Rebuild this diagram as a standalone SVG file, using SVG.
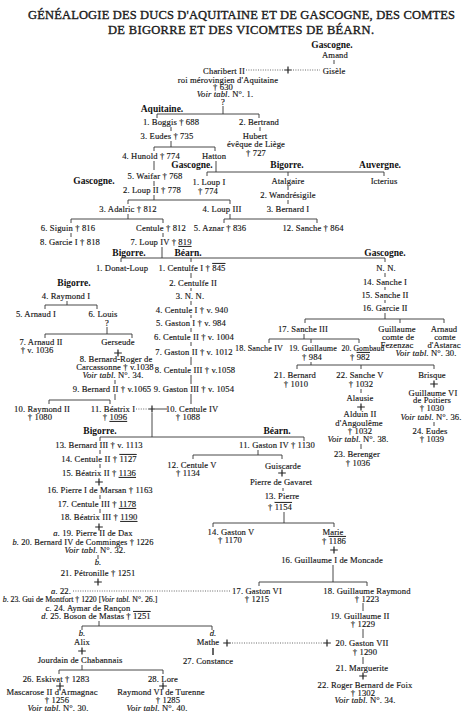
<svg xmlns="http://www.w3.org/2000/svg" xmlns:xlink="http://www.w3.org/1999/xlink" width="474" height="723" viewBox="0 0 474 723">
<style>
.t{font-family:"Liberation Serif","Times New Roman",serif;font-size:8.6px;letter-spacing:0.12px;fill:#151515;stroke:#151515;stroke-width:0.15;text-anchor:middle}
.h{font-family:"Liberation Serif","Times New Roman",serif;font-size:9.5px;font-weight:bold;fill:#111;text-anchor:middle}
.ti{font-family:"Liberation Serif","Times New Roman",serif;font-size:12.5px;fill:#1a1a1a;stroke:#1a1a1a;stroke-width:0.35;text-anchor:middle}
.i{font-style:italic}
.ov{text-decoration:overline}
.un{text-decoration:underline}
.ln{fill:none;stroke:#333;stroke-width:0.9}
.dot{fill:none;stroke:#444;stroke-width:0.8;stroke-dasharray:1 1.4}
.pl{fill:none;stroke:#222;stroke-width:1.2}
</style>
<defs>
<path id="plus" class="pl" d="M-3.8,0H3.8M0,-3.6V3.6"/>
</defs>
<rect width="474" height="723" fill="#fff"/>
<g id="title">
<text class="ti" x="241.5" y="19" textLength="427" lengthAdjust="spacing">GÉNÉALOGIE DES DUCS D'AQUITAINE ET DE GASCOGNE, DES COMTES</text>
<text class="ti" x="241" y="34" textLength="266" lengthAdjust="spacing">DE BIGORRE ET DES VICOMTES DE BÉARN.</text>
</g>
<g id="connectors">
<path class="dot" d="M246,70H284M293,70H320M136,409H148M73,591H231M232,643H322"/>
<path class="ln" d="M156,409H167"/>
<path class="ln" d="M334,60V64M223,106V114M157,118V114H259V118M171,127V131M171,141V147M154,151V147H215V151M260,127V131M154,161V170M154,181V186M154,195V200M128,204V200H230V204M216,161V172M207,176V172H384V176M288,172V176M288,186V190M288,200V204M128,214V219M71,223V219H163V223M230,214V219M224,223V219H317V223M71,233V237M163,233V237M162,247V258M121,262V258H385V262M191,258V262"/>
<path class="ln" d="M191,273V278M191,288V291M191,301V305M191,315V318M191,328V332M191,342V346M191,357V365M191,375V384M191,394V404"/>
<path class="ln" d="M385,273V277M385,287V290M385,300V303M385,313V319M305,323V319H444V323M400,319V323M304,334V339M269,343V339H359V343M311,339V343M311,362V365M297,369V365H434V369M361,365V369M361,389V393M361,444V449M434,422V426"/>
<path class="ln" d="M67,301V305M45,309V305H97V309M107,327V334M45,338V334H132V338M115,380V384M115,394V400M49,404V400H110V404"/>
<path class="ln" d="M152,413V437M100,441V437H304V441M258,450V455M193,459V455H282V459M283,488V491M284,512V523M213,527V523H334V527M100,450V454M100,464V468M100,495V499M100,509V513M98,555V559M333,565V582M259,586V582H367V586M363,603V611M99,621V626M82,630V626H212V630M363,629V638M363,657V664M82,665V670M59,674V670H163V674"/>
<path class="ln" style="stroke-width:1.5" d="M213,648V655"/>
<use xlink:href="#plus" x="288" y="70"/>
<use xlink:href="#plus" x="118" y="353"/>
<use xlink:href="#plus" x="152" y="409"/>
<use xlink:href="#plus" x="361" y="407"/>
<use xlink:href="#plus" x="434" y="384"/>
<use xlink:href="#plus" x="282" y="473"/>
<use xlink:href="#plus" x="99" y="482"/>
<use xlink:href="#plus" x="99" y="527"/>
<use xlink:href="#plus" x="98" y="582"/>
<use xlink:href="#plus" x="334" y="550"/>
<use xlink:href="#plus" x="82" y="651"/>
<use xlink:href="#plus" x="227" y="643"/>
<use xlink:href="#plus" x="327" y="643"/>
<use xlink:href="#plus" x="60" y="686"/>
<use xlink:href="#plus" x="163" y="686"/>
<use xlink:href="#plus" x="363" y="676"/>
</g>
<g id="headers">
<text class="h" x="332" y="48">Gascogne.</text>
<text class="h" x="162" y="112">Aquitaine.</text>
<text class="h" x="192" y="168">Gascogne.</text>
<text class="h" x="287" y="168">Bigorre.</text>
<text class="h" x="380" y="168">Auvergne.</text>
<text class="h" x="94" y="184">Gascogne.</text>
<text class="h" x="129" y="256">Bigorre.</text>
<text class="h" x="188" y="256">Béarn.</text>
<text class="h" x="385" y="256">Gascogne.</text>
<text class="h" x="74" y="286">Bigorre.</text>
<text class="h" x="100" y="434">Bigorre.</text>
<text class="h" x="277" y="434">Béarn.</text>
</g>
<g id="amand"><text class="t" x="335" y="58">Amand</text></g>
<g id="charibert">
<text class="t" x="224" y="74">Charibert II</text>
<text class="t" x="228" y="83">roi mérovingien d'Aquitaine</text>
<text class="t" x="223" y="90">† 630</text>
<text class="t" x="225" y="97"><tspan class="i">Voir tabl.</tspan> N°. 1.</text>
<text class="t" x="223" y="105">?</text>
</g>
<g id="gisele"><text class="t" x="334" y="74">Gisèle</text></g>
<g id="boggis"><text class="t" x="171" y="125">1. Boggis † 688</text></g>
<g id="eudes"><text class="t" x="167" y="139">3. Eudes † 735</text></g>
<g id="bertrand"><text class="t" x="259" y="125">2. Bertrand</text></g>
<g id="hubert">
<text class="t" x="255" y="139">Hubert</text>
<text class="t" x="256" y="147">évêque de Liège</text>
<text class="t" x="256" y="156">† 727</text>
</g>
<g id="hunold"><text class="t" x="151" y="159">4. Hunold † 774</text></g>
<g id="hatton"><text class="t" x="214" y="159">Hatton</text></g>
<g id="waifar"><text class="t" x="155" y="179">5. Waifar † 768</text></g>
<g id="loup2"><text class="t" x="152" y="193">2. Loup II † 778</text></g>
<g id="loup1"><text class="t" x="209" y="185">1. Loup I</text><text class="t" x="208" y="194">† 774</text></g>
<g id="atalgaire"><text class="t" x="288" y="184">Atalgaire</text></g>
<g id="icterius"><text class="t" x="384" y="184">Icterius</text></g>
<g id="wandresigile"><text class="t" x="288" y="198">2. Wandrésigile</text></g>
<g id="bernard1"><text class="t" x="288" y="212">3. Bernard I</text></g>
<g id="adalric"><text class="t" x="128" y="212">3. Adalric † 812</text></g>
<g id="loup3"><text class="t" x="222" y="212">4. Loup III</text></g>
<g id="siguin"><text class="t" x="68" y="231">6. Siguin † 816</text></g>
<g id="centule"><text class="t" x="161" y="231">Centule † 812</text></g>
<g id="aznar"><text class="t" x="220" y="231">5. Aznar † 836</text></g>
<g id="sanche12"><text class="t" x="313" y="231">12. Sanche † 864</text></g>
<g id="garcie1"><text class="t" x="70" y="245">8. Garcie I † 818</text></g>
<g id="loup4"><text class="t" x="161" y="245">7. Loup IV † <tspan class="un">819</tspan></text></g>
<g id="donat-loup"><text class="t" x="122" y="271">1. Donat-Loup</text></g>
<g id="centulfe1"><text class="t" x="192" y="271">1. Centulfe I † <tspan class="ov">845</tspan></text></g>
<g id="nn-gascogne"><text class="t" x="386" y="271">N. N.</text></g>
<g id="centulfe2"><text class="t" x="193" y="286">2. Centulfe II</text></g>
<g id="nn3"><text class="t" x="190" y="299">3. N. N.</text></g>
<g id="centule1"><text class="t" x="192" y="313">4. Centule I † v. 940</text></g>
<g id="gaston1"><text class="t" x="191" y="326">5. Gaston I † v. 984</text></g>
<g id="centule2"><text class="t" x="194" y="340">6. Centule II † v. 1004</text></g>
<g id="gaston2"><text class="t" x="194" y="355">7. Gaston II † v. 1012</text></g>
<g id="centule3"><text class="t" x="195" y="373">8. Centule III † v.1058</text></g>
<g id="gaston3"><text class="t" x="194" y="392">9. Gaston III † v. 1054</text></g>
<g id="centule4"><text class="t" x="192" y="412">10. Centule IV</text><text class="t" x="188" y="420">† 1088</text></g>
<g id="sanche1"><text class="t" x="385" y="285">14. Sanche I</text></g>
<g id="sanche2"><text class="t" x="385" y="298">15. Sanche II</text></g>
<g id="garcie2"><text class="t" x="385" y="311">16. Garcie II</text></g>
<g id="sanche3"><text class="t" x="303" y="332">17. Sanche III</text></g>
<g id="guillaume-fezenzac">
<text class="t" x="397" y="332">Guillaume</text>
<text class="t" x="398" y="340">comte de</text>
<text class="t" x="397" y="348">Fezenzac</text>
<text class="t" x="426" y="356"><tspan class="i">Voir tabl.</tspan> N°. 30.</text>
</g>
<g id="arnaud-astarac">
<text class="t" x="444" y="332">Arnaud</text>
<text class="t" x="445" y="340">comte</text>
<text class="t" x="444" y="348">d'Astarac</text>
</g>
<g id="sanche4"><text class="t" x="259" y="351" textLength="48" lengthAdjust="spacingAndGlyphs">18. Sanche IV</text></g>
<g id="guillaume19"><text class="t" x="313" y="351" textLength="48" lengthAdjust="spacingAndGlyphs">19. Guillaume</text><text class="t" x="312" y="360">† 984</text></g>
<g id="gombaud"><text class="t" x="363" y="351" textLength="43" lengthAdjust="spacingAndGlyphs">20. Gombaud</text><text class="t" x="360" y="360">† <tspan class="ov">982</tspan></text></g>
<g id="bernard21"><text class="t" x="295" y="378">21. Bernard</text><text class="t" x="296" y="387">† 1010</text></g>
<g id="sanche5"><text class="t" x="360" y="378">22. Sanche V</text><text class="t" x="361" y="387">† 1032</text></g>
<g id="alausie"><text class="t" x="360" y="401">Alausie</text></g>
<g id="alduin2">
<text class="t" x="360" y="417">Alduin II</text>
<text class="t" x="359" y="426">d'Angoulême</text>
<text class="t" x="360" y="434">† 1032</text>
<text class="t" x="358" y="442"><tspan class="i">Voir tabl.</tspan> N°. 38.</text>
</g>
<g id="berenger"><text class="t" x="357" y="457">23. Berenger</text><text class="t" x="358" y="466">† 1036</text></g>
<g id="brisque"><text class="t" x="432" y="378">Brisque</text></g>
<g id="guillaume6">
<text class="t" x="433" y="396">Guillaume VI</text>
<text class="t" x="432" y="403">de Poitiers</text>
<text class="t" x="432" y="411">† 1030</text>
<text class="t" x="431" y="420"><tspan class="i">Voir tabl.</tspan> N°. 36.</text>
</g>
<g id="eudes24"><text class="t" x="430" y="434">24. Eudes</text><text class="t" x="432" y="442">† 1039</text></g>
<g id="raymond1"><text class="t" x="66" y="299">4. Raymond I</text></g>
<g id="arnaud1"><text class="t" x="36" y="317">5. Arnaud I</text></g>
<g id="louis"><text class="t" x="103" y="317">6. Louis</text><text class="t" x="107" y="326">?</text></g>
<g id="arnaud2"><text class="t" x="41" y="345">7. Arnaud II</text><text class="t" x="37" y="353">† v. 1036</text></g>
<g id="gerseude"><text class="t" x="118" y="345">Gerseude</text></g>
<g id="bernard-roger">
<text class="t" x="116" y="362">8. Bernard-Roger de</text>
<text class="t" x="115" y="370">Carcassonne † v.1038</text>
<text class="t" x="113" y="378"><tspan class="i">Voir tabl.</tspan> N°. 34.</text>
</g>
<g id="bernard2"><text class="t" x="112" y="392">9. Bernard II † v.1065</text></g>
<g id="raymond2"><text class="t" x="42" y="412">10. Raymond II</text><text class="t" x="40" y="420">† 1080</text></g>
<g id="beatrix1"><text class="t" x="113" y="412">11. Béatrix I</text><text class="t" x="115" y="420">† <tspan class="un">1096</tspan></text></g>
<g id="bernard3"><text class="t" x="99" y="448">13. Bernard III † v. 1113</text></g>
<g id="gaston4"><text class="t" x="277" y="448">11. Gaston IV † 1130</text></g>
<g id="centule2b"><text class="t" x="99" y="462">14. Centule II † <tspan class="ov">1127</tspan></text></g>
<g id="beatrix2"><text class="t" x="99" y="476">15. Béatrix II † <tspan class="un">1136</tspan></text></g>
<g id="centule5"><text class="t" x="192" y="468">12. Centule V</text><text class="t" x="188" y="476">† 1134</text></g>
<g id="guiscarde"><text class="t" x="283" y="469">Guiscarde</text></g>
<g id="pierre-gavaret"><text class="t" x="281" y="485">Pierre de Gavaret</text></g>
<g id="pierre1"><text class="t" x="100" y="493">16. Pierre I de Marsan † 1163</text></g>
<g id="pierre13"><text class="t" x="282" y="499">13. Pierre</text><text class="t" x="280" y="510">† <tspan class="ov">1154</tspan></text></g>
<g id="centule3b"><text class="t" x="97" y="507">17. Centule III † <tspan class="un">1178</tspan></text></g>
<g id="beatrix3"><text class="t" x="99" y="520">18. Béatrix III † <tspan class="un">1190</tspan></text></g>
<g id="husbands-beatrix3">
<text class="t" x="93" y="536"><tspan class="i">a.</tspan> 19. Pierre II de Dax</text>
<text class="t" x="83" y="545" textLength="141" lengthAdjust="spacingAndGlyphs"><tspan class="i">b.</tspan> 20. Bernard IV de Comminges † 1226</text>
<text class="t" x="95" y="553"><tspan class="i">Voir tabl.</tspan> N°. 32.</text>
<text class="t i" x="98" y="565">b.</text>
</g>
<g id="gaston5"><text class="t" x="231" y="535">14. Gaston V</text><text class="t" x="230" y="543">† 1170</text></g>
<g id="marie"><text class="t" x="333" y="535">Marie</text><text class="t" x="334" y="544">† <tspan class="ov">1186</tspan></text></g>
<g id="guillaume-moncade"><text class="t" x="332" y="563">16. Guillaume I de Moncade</text></g>
<g id="petronille"><text class="t" x="98" y="576">21. Pétronille † 1251</text></g>
<g id="husbands-petronille">
<text class="t" x="61" y="594"><tspan class="i">a.</tspan> 22.</text>
<text class="t" x="80" y="602" style="font-size:7.8px;letter-spacing:0"><tspan class="i">b.</tspan> 23. Gui de Montfort † 1220 [<tspan class="i">Voir tabl.</tspan> N°. 26.]</text>
<text class="t" x="88" y="611"><tspan class="i">c.</tspan> 24. Aymar de Rançon</text>
<text class="t" x="96" y="619"><tspan class="i">d.</tspan> 25. Boson de Mastas † <tspan class="ov">1251</tspan></text>
</g>
<g id="gaston6"><text class="t" x="257" y="594">17. Gaston VI</text><text class="t" x="257" y="602">† 1215</text></g>
<g id="guillaume-raymond"><text class="t" x="367" y="594">18. Guillaume Raymond</text><text class="t" x="367" y="602">† 1223</text></g>
<g id="guillaume2"><text class="t" x="360" y="619">19. Guillaume II</text><text class="t" x="363" y="627">† 1229</text></g>
<g id="alix"><text class="t i" x="82" y="636">b.</text><text class="t" x="82" y="645">Alix</text></g>
<g id="mathe"><text class="t i" x="213" y="636">d.</text><text class="t" x="208" y="645">Mathe</text></g>
<g id="gaston7"><text class="t" x="362" y="646">20. Gaston VII</text><text class="t" x="365" y="655">† 1290</text></g>
<g id="jourdain"><text class="t" x="80" y="663">Jourdain de Chabannais</text></g>
<g id="constance"><text class="t" x="208" y="664">27. Constance</text></g>
<g id="marguerite"><text class="t" x="362" y="671">21. Marguerite</text></g>
<g id="eskivat"><text class="t" x="56" y="682">26. Eskivat † 1283</text></g>
<g id="lore"><text class="t" x="163" y="682">28. Lore</text></g>
<g id="roger-bernard">
<text class="t" x="365" y="688">22. Roger Bernard de Foix</text>
<text class="t" x="363" y="696">† 1302</text>
<text class="t" x="365" y="703"><tspan class="i">Voir tabl.</tspan> N°. 34.</text>
</g>
<g id="mascarose">
<text class="t" x="52" y="695">Mascarose II d'Armagnac</text>
<text class="t" x="57" y="703">† 1256</text>
<text class="t" x="58" y="711"><tspan class="i">Voir tabl.</tspan> N°. 30.</text>
</g>
<g id="raymond6">
<text class="t" x="161" y="695">Raymond VI de Turenne</text>
<text class="t" x="168" y="703">† 1285</text>
<text class="t" x="157" y="711"><tspan class="i">Voir tabl.</tspan> N°. 40.</text>
</g>
</svg>
